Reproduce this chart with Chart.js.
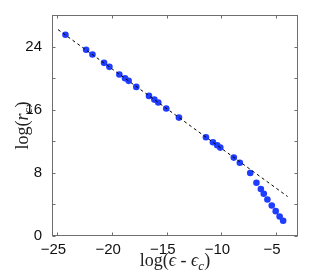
<!DOCTYPE html>
<html>
<head>
<meta charset="utf-8">
<script src="https://cdn.jsdelivr.net/npm/chart.js@4/dist/chart.umd.min.js"></script>
<style>
  html, body { margin: 0; padding: 0; background: #fff; }
  canvas { display: block; }
</style>
</head>
<body>
<canvas id="chart" width="322" height="272"></canvas>
<script>
// measured points: log(eps - eps_c) against log(r_c)
const logEps = [-24.27, -22.38, -21.80, -20.74, -20.25, -19.34, -18.82, -18.49, -17.79, -16.63,
  -16.14, -15.78, -15.05, -13.89, -11.42, -10.78, -10.39, -10.11, -8.87, -8.32,
  -7.37, -6.80, -6.40, -6.13, -5.80, -5.40, -5.04, -4.68, -4.36];
const logRc = [25.50, 23.59, 23.00, 21.94, 21.43, 20.46, 19.99, 19.66, 18.89, 17.75,
  17.28, 16.91, 16.15, 15.00, 12.51, 11.87, 11.49, 11.20, 9.93, 9.29,
  7.98, 6.75, 5.95, 5.35, 4.63, 3.87, 3.15, 2.48, 1.93];

// dashed fit line (its two ends)
const fitX = [-24.95, -3.95];
const fitY = [26.15, 5.0];

// axis ticks
const xTickValues = [-25, -20, -15, -10, -5];
const yTickValues = [0, 4, 8, 12, 16, 20, 24];
const yLabelled = [0, 8, 16, 24];

const FRAME = "#6e6e6e";
const SERIF = '"Liberation Serif", "DejaVu Serif", serif';

function fmtMinus(v) {
  return v < 0 ? "\u2212" + Math.abs(v) : String(v);
}

// text with italic letters and subscripts, centred on (0,0) of the current transform
function drawRich(ctx, parts, size) {
  const fontFor = p => (p.i ? "italic " : "") + (p.sub ? Math.round(size * 0.7) : size) + "px " + SERIF;
  let w = 0;
  parts.forEach(p => { ctx.font = fontFor(p); w += ctx.measureText(p.t).width; });
  let x = -w / 2;
  parts.forEach(p => {
    ctx.font = fontFor(p);
    ctx.fillText(p.t, x, p.sub ? size * 0.22 : 0);
    x += ctx.measureText(p.t).width;
  });
}

const framePlugin = {
  id: "frame",
  afterDraw(chart) {
    const { ctx, chartArea: a, scales } = chart;
    const L = Math.round(a.left) + 0.5, R = Math.round(a.right) - 0.5;
    const T = Math.round(a.top) + 0.5, B = Math.round(a.bottom) - 0.5;
    ctx.save();
    ctx.strokeStyle = FRAME;
    ctx.lineWidth = 1;
    ctx.strokeRect(L, T, R - L, B - T);
    // inward ticks, mirrored on top and right
    ctx.beginPath();
    xTickValues.forEach(v => {
      const px = Math.round(scales.x.getPixelForValue(v)) + 0.5;
      ctx.moveTo(px, B); ctx.lineTo(px, B - 3);
      ctx.moveTo(px, T); ctx.lineTo(px, T + 3);
    });
    yTickValues.forEach(v => {
      const py = Math.round(scales.y.getPixelForValue(v)) + 0.5;
      ctx.moveTo(L, py); ctx.lineTo(L + 3, py);
      ctx.moveTo(R, py); ctx.lineTo(R - 3, py);
    });
    ctx.stroke();

    // axis titles
    ctx.fillStyle = "#222";
    ctx.textBaseline = "alphabetic";
    ctx.textAlign = "left";
    ctx.save();
    ctx.translate((a.left + a.right) / 2, 266);
    drawRich(ctx, [{ t: "log(" }, { t: "\u03F5", i: true }, { t: " - " },
      { t: "\u03F5", i: true }, { t: "c", i: true, sub: true }, { t: ")" }], 18);
    ctx.restore();
    ctx.save();
    ctx.translate(28, (a.top + a.bottom) / 2);
    ctx.rotate(-Math.PI / 2);
    drawRich(ctx, [{ t: "log(" }, { t: "r", i: true }, { t: "c", i: true, sub: true }, { t: ")" }], 18);
    ctx.restore();
    ctx.restore();
  }
};

new Chart(document.getElementById("chart"), {
  type: "scatter",
  data: {
    datasets: [
      {
        label: "fit",
        data: fitX.map((x, i) => ({ x, y: fitY[i] })),
        showLine: true,
        borderColor: "#000",
        borderWidth: 1,
        borderDash: [3, 3],
        pointRadius: 0,
        fill: false,
      },
      {
        label: "r_c",
        data: logEps.map((x, i) => ({ x, y: logRc[i] })),
        backgroundColor: "#1f3dff",
        borderColor: "#1f3dff",
        borderWidth: 0,
        pointRadius: 3.3,
      },
    ],
  },
  options: {
    responsive: false,
    animation: false,
    devicePixelRatio: 1,
    layout: { padding: { left: 0, right: 24, top: 15, bottom: 0 } },
    plugins: { legend: { display: false }, tooltip: { enabled: false } },
    scales: {
      x: {
        type: "linear",
        min: -25.5,
        max: -3,
        afterBuildTicks: s => { s.ticks = xTickValues.map(value => ({ value })); },
        afterFit: s => { s.height = 36; },
        grid: { display: false },
        border: { display: false },
        ticks: {
          color: "#111",
          font: { family: '"Liberation Sans", Arial, sans-serif', size: 15 },
          padding: -3,
          labelOffset: -4,
          maxRotation: 0,
          callback: v => fmtMinus(v),
        },
      },
      y: {
        type: "linear",
        min: 0,
        max: 28,
        afterBuildTicks: s => { s.ticks = yTickValues.map(value => ({ value })); },
        afterFit: s => { s.width = 52; },
        grid: { display: false },
        border: { display: false },
        ticks: {
          color: "#111",
          font: { family: '"Liberation Sans", Arial, sans-serif', size: 15 },
          padding: 2,
          callback: v => (yLabelled.includes(v) ? fmtMinus(v) : ""),
        },
      },
    },
  },
  plugins: [framePlugin],
});
</script>
</body>
</html>
